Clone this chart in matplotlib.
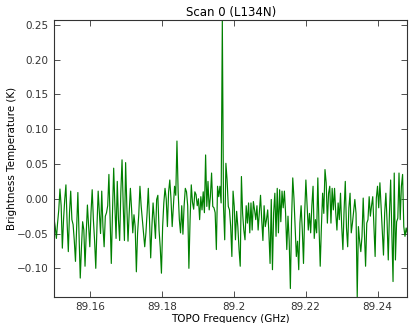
import numpy as np
import matplotlib
matplotlib.use("Agg")
import matplotlib.pyplot as plt
from matplotlib.ticker import FuncFormatter

# spectrum, channel by channel (K)
seg1 = [-0.028, -0.040, -0.057, -0.035, -0.016, 0.014, -0.010, -0.071, -0.030, -0.001,
        0.020, -0.035, -0.076, -0.020, 0.011, -0.030, -0.037, -0.060, -0.090, -0.040,
        0.009, -0.050, -0.114, -0.070, -0.033, -0.045, -0.097, -0.050, -0.009, -0.040,
        -0.069, -0.020, 0.013, -0.030, -0.060, -0.100, -0.040, 0.011, -0.020, -0.050,
        0.011, -0.040, -0.069, -0.025, -0.020, -0.010, 0.035, -0.030, -0.093, -0.020,
        0.044, -0.010, -0.057, 0.025, -0.030, -0.060, 0.010, 0.056, -0.010, -0.060]
seg2 = [0.052, -0.010, -0.061, -0.020, 0.015, -0.015, -0.049, -0.023, -0.040, -0.105,
        -0.050, -0.023, 0.018, -0.010, -0.030, -0.050, -0.069, -0.049, -0.020, 0.015,
        -0.030, -0.085, -0.040, -0.006, -0.030, -0.057, -0.001, 0.005, -0.045, -0.070,
        -0.107, -0.040, -0.006, 0.015, 0.000, -0.040, 0.010, 0.027, 0.000, -0.040,
        -0.010, 0.018, 0.005, 0.083, 0.010, -0.030, -0.049, -0.010, -0.051, -0.010,
        0.015, 0.010, -0.010, -0.100, -0.030, 0.020, -0.005, -0.015, 0.010]
seg3 = [0.006, -0.010, 0.000, -0.030, 0.003, -0.016, 0.010, -0.020, 0.063, -0.011,
        0.025, -0.016, 0.003, 0.037, -0.011, -0.013, -0.020, -0.073, 0.018, 0.003,
        0.018, -0.006, 0.257, -0.011, -0.059, 0.051, 0.027, -0.011, -0.016, -0.040,
        -0.083, 0.011, -0.011, -0.059, -0.018, -0.040, -0.073, -0.097, 0.032, -0.021,
        -0.045, -0.059, -0.010, -0.035, -0.006, -0.049, -0.006, -0.045, -0.004, -0.016,
        -0.030, -0.010, -0.045, -0.020, 0.005, -0.030, -0.060, -0.010]
seg4 = [-0.040, -0.030, -0.016, -0.049, -0.093, -0.001, -0.102, -0.020, 0.008, -0.054,
        0.015, -0.049, 0.013, -0.033, 0.011, -0.013, 0.011, -0.021, -0.073, -0.025,
        -0.060, -0.129, -0.030, 0.030, 0.001, -0.040, -0.083, -0.061, -0.102, -0.035,
        -0.010, -0.045, -0.093, -0.020, 0.027, -0.010, -0.045, -0.021, -0.049, -0.010,
        0.018, -0.057, -0.030, -0.049, 0.030, -0.040, -0.097, -0.040, 0.008, -0.021,
        0.042, 0.023, -0.035, 0.008, 0.018, -0.035, 0.015]
seg5 = [-0.016, 0.015, -0.020, -0.045, -0.006, -0.030, 0.008, -0.040, -0.073, -0.016,
        0.025, -0.042, -0.069, -0.013, 0.008, -0.049, -0.035, -0.018, -0.001, -0.021,
        -0.141, -0.040, -0.060, -0.076, -0.054, 0.001, -0.050, -0.097, -0.035, -0.030,
        0.003, -0.025, -0.010, 0.003, -0.040, -0.083, 0.001, 0.018, -0.013, 0.023,
        -0.011, -0.045, -0.081, -0.020, 0.008, -0.033, -0.088, -0.020, 0.027, -0.050,
        -0.119, 0.037, -0.088, -0.033, -0.028, 0.037, -0.030, 0.018, 0.035, -0.040,
        -0.054, -0.042, -0.050]

temps = np.array(seg1 + seg2 + seg3 + seg4 + seg5)
f_start, f_stop = 89.15, 89.2483  # GHz, first and last channel
freqs = np.linspace(f_start, f_stop, len(temps))

xticks = [89.16, 89.18, 89.2, 89.22, 89.24]
yticks = [-0.10, -0.05, 0.00, 0.05, 0.10, 0.15, 0.20, 0.25]

plt.rcParams['font.family'] = 'DejaVu Sans'
fig = plt.figure(figsize=(4.09, 3.23), dpi=100, facecolor='white')
ax = fig.add_axes([0.132, 0.081, 0.864, 0.857])

ax.plot(freqs, temps, color='green', lw=0.85)
ax.set_xlim(freqs[0], freqs[-1])
ax.set_ylim(temps.min(), temps.max())

ax.set_xticks(xticks)
ax.set_yticks(yticks)
ax.xaxis.set_major_formatter(FuncFormatter(lambda v, p: '%g' % v))
ax.yaxis.set_major_formatter(FuncFormatter(lambda v, p: ('%.2f' % v).replace('-', '\u2212')))
ax.tick_params(direction='in', top=True, right=True, length=4, width=0.6,
               labelsize=7.5, colors='#333333', pad=4)
for s in ax.spines.values():
    s.set_linewidth(0.8)
    s.set_color('#333333')

ax.set_title('Scan 0 (L134N)', fontsize=8.5, pad=3)
ax.set_xlabel('TOPO Frequency (GHz)', fontsize=7.5, labelpad=1)
ax.set_ylabel('Brightness Temperature (K)', fontsize=7.5, labelpad=0)

fig.savefig('out.png', dpi=100, facecolor='white')
